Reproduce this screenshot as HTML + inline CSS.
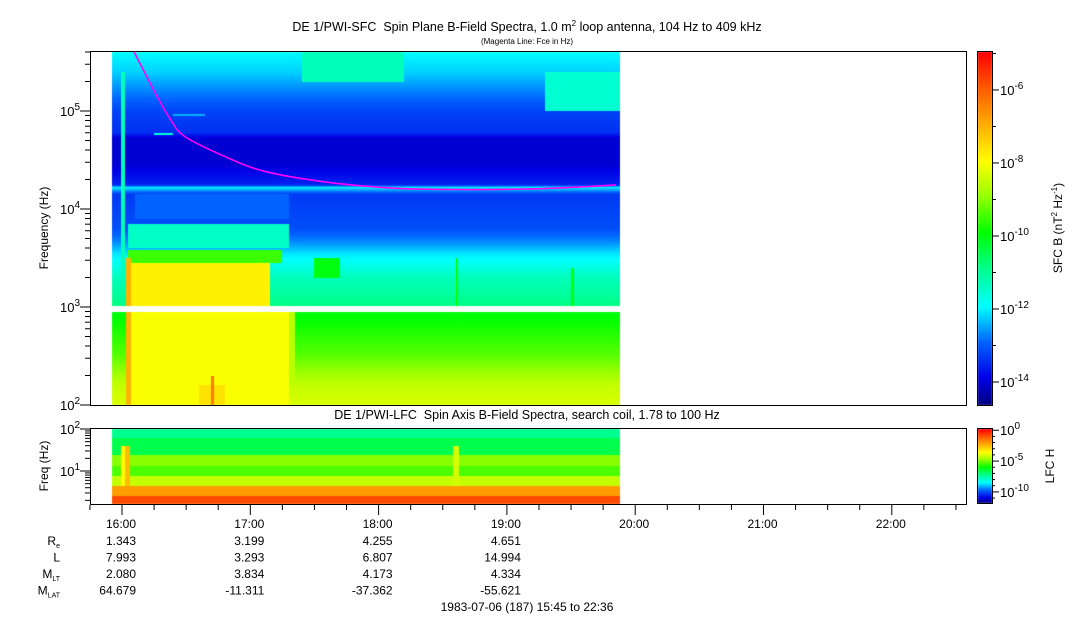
<!DOCTYPE html>
<html><head><meta charset="utf-8"><style>
body{margin:0;background:#fff;width:1083px;height:620px;overflow:hidden;position:relative;font-family:"Liberation Sans",sans-serif}
canvas{position:absolute;left:0;top:0}
svg{position:absolute;left:0;top:0}
text{font-family:"Liberation Sans",sans-serif;fill:#000;white-space:pre}
</style></head><body>
<canvas id="spec" width="1083" height="620"></canvas>
<svg id="ax" width="1083" height="620"></svg>
<script>
// ---- data ----
const quietLf = [2.0,2.2,2.5,2.95,3.0,3.3,3.45,3.55,3.65,3.8,4.15,4.22,4.245,4.45,4.72,4.78,5.0,5.2,5.4,5.62];
const quietLevel = [-8.3,-8.5,-9.3,-10.0,-10.8,-11.3,-11.8,-12.1,-12.6,-13.1,-13.3,-12.0,-13.5,-14.0,-14.0,-13.4,-13.2,-12.7,-12.2,-11.9];
// events: [tStart, tEnd, lfLow, lfHigh, level]
const eventStart = [16.03,16.05,16.05,16.05,15.99,16.03,16.69,16.6,17.2,17.5,17.4,19.3,16.25,18.6,19.5,16.1,16.4];
const eventEnd   = [17.3,17.15,17.25,17.3,16.02,16.07,16.72,16.8,17.35,17.7,18.2,19.9,16.4,18.62,19.52,17.3,16.65];
const eventLow   = [2.0,3.0,3.45,3.6,2.0,2.0,2.0,2.0,2.0,3.3,5.3,5.0,4.76,2.0,2.0,3.9,4.95];
const eventHigh  = [2.95,3.45,3.58,3.85,5.4,3.5,2.3,2.2,3.0,3.5,5.62,5.4,4.78,3.5,3.4,4.15,4.97];
const eventLevel = [-8.0,-7.8,-9.5,-11.4,-11.3,-7.0,-6.3,-7.6,-8.6,-10.0,-11.3,-11.5,-11.6,-9.8,-10.0,-12.9,-12.4];
const fceTimes  = [16.094,16.288,16.366,16.483,16.787,17.122,17.621,18.12,18.595,19.149,19.570,19.850];
const fceValues = [400000,130000,87000,55600,35000,24000,18600,16300,15800,16000,16800,17600];
const lfcEdges  = [0.2,0.4,0.64,0.88,1.12,1.38,1.79,2.02];
const lfcLevels = [-0.8,-2.0,-4.2,-5.3,-4.8,-6.6,-7.2];
const lfcEvStart=[15.99,16.02,18.58];
const lfcEvEnd  =[16.02,16.06,18.63];
const lfcEvLevel=[-3.5,-2.5,-4.0];
const hourLabels=["16:00","17:00","18:00","19:00","20:00","21:00","22:00"];
const hourValues=[16,17,18,19,20,21,22];
const ephRows=["R","L","M","M"];
const reVals=["1.343","3.199","4.255","4.651"];
const lVals=["7.993","3.293","6.807","14.994"];
const mltVals=["2.080","3.834","4.173","4.334"];
const mlatVals=["64.679","-11.311","-37.362","-55.621"];
// ---- scales ----
const tx=t=>122+(t-16)*128.3;
const txInv=x=>16+(x-122)/128.3;
const fy=lf=>111-(lf-5)*98;
const fyInv=y=>5-(y-111)/98;
const ly=lf=>471-(lf-1)*42;
const lyInv=y=>1-(y-471)/42;
const stops=[[0,0,0,128],[0.08,0,0,230],[0.18,0,100,255],[0.28,0,255,255],[0.38,0,255,150],[0.49,0,255,0],[0.6,160,255,0],[0.69,255,255,0],[0.8,255,170,0],[0.9,255,90,0],[1,255,0,0]];
function cmap(f){f=Math.max(0,Math.min(1,f));for(let i=1;i<stops.length;i++){if(f<=stops[i][0]){const a=stops[i-1],b=stops[i],u=(f-a[0])/(b[0]-a[0]);return [a[1]+(b[1]-a[1])*u,a[2]+(b[2]-a[2])*u,a[3]+(b[3]-a[3])*u];}}return [255,0,0];}
function interp(xs,ys,x){if(x<=xs[0])return ys[0];for(let i=1;i<xs.length;i++){if(x<=xs[i]){const u=(x-xs[i-1])/(xs[i]-xs[i-1]);return ys[i-1]+(ys[i]-ys[i-1])*u;}}return ys[ys.length-1];}
const cv=document.getElementById('spec');const ctx=cv.getContext('2d');
const img=ctx.createImageData(1083,620);const d=img.data;
function put(x,y,c){const k=(y*1083+x)*4;d[k]=c[0];d[k+1]=c[1];d[k+2]=c[2];d[k+3]=255;}
for(let x=112;x<620;x++){const t=txInv(x+0.5);
 for(let y=52;y<405;y++){if(y>=306&&y<312)continue;const lf=fyInv(y+0.5);
  let v=interp(quietLf,quietLevel,lf);
  for(let e=0;e<eventStart.length;e++){if(t>=eventStart[e]&&t<eventEnd[e]&&lf>=eventLow[e]&&lf<eventHigh[e])v=Math.max(v,eventLevel[e]);}
  put(x,y,cmap((v+14.63)/9.67));}
 for(let y=429;y<504;y++){const lf=lyInv(y+0.5);let v=lfcLevels[0];
  for(let b=0;b<lfcLevels.length;b++){if(lf>=lfcEdges[b]&&lf<lfcEdges[b+1])v=lfcLevels[b];}
  for(let e=0;e<lfcEvStart.length;e++){if(t>=lfcEvStart[e]&&t<lfcEvEnd[e]&&lf<1.6)v=Math.max(v,lfcEvLevel[e]);}
  put(x,y,cmap((v+11.8)/12));}}
for(let y=52;y<405;y++){for(let x=978;x<992;x++)put(x,y,cmap((405-y)/353));}
for(let y=429;y<503;y++){for(let x=978;x<992;x++)put(x,y,cmap((503-y)/74));}
ctx.putImageData(img,0,0);
// ---- svg ----
const NS="http://www.w3.org/2000/svg";const svg=document.getElementById('ax');
function el(tag,attrs,txt){const e=document.createElementNS(NS,tag);for(const k in attrs)e.setAttribute(k,attrs[k]);if(txt!==undefined)e.textContent=txt;svg.appendChild(e);return e;}
let e;
e=el('rect',{x:90.5,y:51.5,width:876,height:354,fill:'none',stroke:'#000'});


e=el('rect',{x:90.5,y:428.5,width:876,height:76,fill:'none',stroke:'#000'});


e=el('rect',{x:977.5,y:51.5,width:15,height:354,fill:'none',stroke:'#000'});


e=el('rect',{x:977.5,y:428.5,width:15,height:75,fill:'none',stroke:'#000'});


// fce line (smooth catmull-rom through points)
const P=fceTimes.map((t,i)=>[tx(t),fy(Math.log10(fceValues[i]))]);
let dstr='M'+P[0][0].toFixed(1)+','+P[0][1].toFixed(1);
for(let i=0;i<P.length-1;i++){const p0=P[Math.max(0,i-1)],p1=P[i],p2=P[i+1],p3=P[Math.min(P.length-1,i+2)];
 const c1=[p1[0]+(p2[0]-p0[0])/6,p1[1]+(p2[1]-p0[1])/6],c2=[p2[0]-(p3[0]-p1[0])/6,p2[1]-(p3[1]-p1[1])/6];
 dstr+=' C'+c1.map(v=>v.toFixed(1)).join(',')+' '+c2.map(v=>v.toFixed(1)).join(',')+' '+p2.map(v=>v.toFixed(1)).join(',');}
e=el('path',{d:dstr,fill:'none',stroke:'#ff00ff','stroke-width':1.6});


// main y ticks
for(let dec=2;dec<=5;dec++){for(let m=1;m<10;m++){const lf=dec+Math.log10(m);if(lf>5.62)break;const y=fy(lf);const L=m==1?10:5;
 e=el('line',{x1:90-L,x2:90,y1:y,y2:y,stroke:'#000'});
 
 }
 e=el('text',{x:80,y:fy(dec)+5,'text-anchor':'end','font-size':13});
 e.innerHTML='10<tspan dy="-6" font-size="10">'+dec+'</tspan>';
 
 }
// lower y ticks
for(let dec=0;dec<=2;dec++){for(let m=1;m<10;m++){const lf=dec+Math.log10(m);if(lf<0.2||lf>2.02)continue;const y=ly(lf);const L=m==1?10:5;
 e=el('line',{x1:90-L,x2:90,y1:y,y2:y,stroke:'#000'});
 
 }
 if(dec>=1){e=el('text',{x:80,y:ly(dec)+5,'text-anchor':'end','font-size':13});
 e.innerHTML='10<tspan dy="-6" font-size="10">'+dec+'</tspan>';
 
 }}
// time ticks
for(let q=0;q<=27;q++){const t=15.75+q*0.25;const x=tx(t);const maj=(q%4==1);
 e=el('line',{x1:x,x2:x,y1:505,y2:maj?515:510,stroke:'#000'});
 
 }
hourLabels.forEach((s,i)=>{e=el('text',{x:tx(hourValues[i])+14,y:528,'text-anchor':'end','font-size':12},s);
 
 });
[reVals,lVals,mltVals,mlatVals].forEach((arr,r)=>{arr.forEach((s,i)=>{e=el('text',{x:tx(hourValues[i])+14,y:545+r*16.5,'text-anchor':'end','font-size':12},s);
 
 });});
const subs=['e','','LT','LAT'];
ephRows.forEach((s,r)=>{e=el('text',{x:60,y:545+r*16.5,'text-anchor':'end','font-size':12});
 e.innerHTML=s+(subs[r]?'<tspan dy="3" font-size="7">'+subs[r]+'</tspan>':'');
 
 });
e=el('text',{x:527,y:611,'text-anchor':'middle','font-size':12},'1983-07-06 (187) 15:45 to 22:36');


e=el('text',{x:527,y:31,'text-anchor':'middle','font-size':12.5});
e.innerHTML='DE 1/PWI-SFC  Spin Plane B-Field Spectra, 1.0 m<tspan dy="-5" font-size="8">2</tspan><tspan dy="5"> loop antenna, 104 Hz to 409 kHz</tspan>';


e=el('text',{x:527,y:44,'text-anchor':'middle','font-size':8},'(Magenta Line: Fce in Hz)');


e=el('text',{x:527,y:419,'text-anchor':'middle','font-size':12.5},'DE 1/PWI-LFC  Spin Axis B-Field Spectra, search coil, 1.78 to 100 Hz');


e=el('text',{x:0,y:0,'text-anchor':'middle','font-size':12,transform:'translate(48,228) rotate(-90)'},'Frequency (Hz)');


e=el('text',{x:0,y:0,'text-anchor':'middle','font-size':12,transform:'translate(48,466) rotate(-90)'},'Freq (Hz)');


// colorbar ticks
for(let p=-14;p<=-5;p++){const y=405-(p+14.63)/9.67*353;const maj=(p%2==0);
 e=el('line',{x1:992,x2:maj?999:996,y1:y,y2:y,stroke:'#000'});
 
 
 if(maj){e=el('text',{x:1000,y:y+5,'font-size':13});
 e.innerHTML='10<tspan dy="-6" font-size="10">'+p+'</tspan>';
 
 }}
for(let p=-11;p<=0;p++){const y=503-(p+11.8)/12*74;const maj=(p%5==0);
 e=el('line',{x1:992,x2:maj?999:995,y1:y,y2:y,stroke:'#000'});
 
 
 if(maj){e=el('text',{x:1000,y:y+5,'font-size':13});
 e.innerHTML='10<tspan dy="-6" font-size="10">'+p+'</tspan>';
 
 }}
e=el('text',{x:0,y:0,'text-anchor':'middle','font-size':12,transform:'translate(1062,228) rotate(-90)'});
e.innerHTML='SFC B (nT<tspan dy="-5" font-size="8">2</tspan><tspan dy="5"> Hz</tspan><tspan dy="-5" font-size="8">-1</tspan><tspan dy="5">)</tspan>';


e=el('text',{x:0,y:0,'text-anchor':'middle','font-size':12,transform:'translate(1054,466) rotate(-90)'},'LFC H');


</script>
</body></html>
